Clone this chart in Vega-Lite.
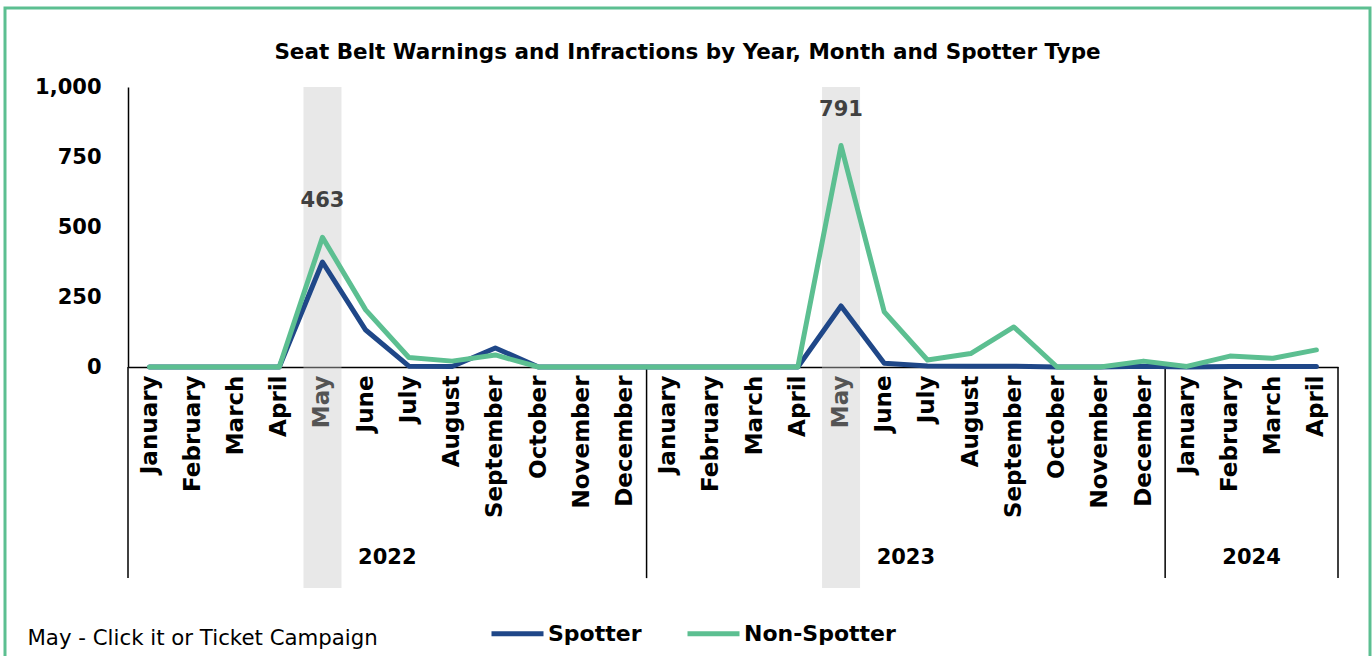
{
  "$schema": "https://vega.github.io/schema/vega-lite/v6.json",
  "width": 1365,
  "height": 660,
  "autosize": {"type": "none"},
  "padding": {"left": 5, "top": 8, "right": 2, "bottom": 0},
  "background": "white",
  "config": {
    "view": {"stroke": "#5cbf91", "strokeWidth": 3},
    "font": "DejaVu Sans"
  },
  "title": {
    "text": "Seat Belt Warnings and Infractions by Year, Month and Spotter Type",
    "anchor": "middle",
    "frame": "group",
    "offset": -66,
    "baseline": "middle",
    "font": "DejaVu Sans",
    "fontSize": 21.5,
    "fontWeight": "bold",
    "color": "black"
  },
  "data": {
    "values": [
      {"date": "2022-01-15", "series": "Spotter", "count": 0},
      {"date": "2022-02-15", "series": "Spotter", "count": 0},
      {"date": "2022-03-15", "series": "Spotter", "count": 0},
      {"date": "2022-04-15", "series": "Spotter", "count": 0},
      {"date": "2022-05-15", "series": "Spotter", "count": 375},
      {"date": "2022-06-15", "series": "Spotter", "count": 132},
      {"date": "2022-07-15", "series": "Spotter", "count": 3},
      {"date": "2022-08-15", "series": "Spotter", "count": 2},
      {"date": "2022-09-15", "series": "Spotter", "count": 68},
      {"date": "2022-10-15", "series": "Spotter", "count": 0},
      {"date": "2022-11-15", "series": "Spotter", "count": 0},
      {"date": "2022-12-15", "series": "Spotter", "count": 0},
      {"date": "2023-01-15", "series": "Spotter", "count": 0},
      {"date": "2023-02-15", "series": "Spotter", "count": 0},
      {"date": "2023-03-15", "series": "Spotter", "count": 0},
      {"date": "2023-04-15", "series": "Spotter", "count": 0},
      {"date": "2023-05-15", "series": "Spotter", "count": 218},
      {"date": "2023-06-15", "series": "Spotter", "count": 13},
      {"date": "2023-07-15", "series": "Spotter", "count": 4},
      {"date": "2023-08-15", "series": "Spotter", "count": 3},
      {"date": "2023-09-15", "series": "Spotter", "count": 3},
      {"date": "2023-10-15", "series": "Spotter", "count": 0},
      {"date": "2023-11-15", "series": "Spotter", "count": 0},
      {"date": "2023-12-15", "series": "Spotter", "count": 3},
      {"date": "2024-01-15", "series": "Spotter", "count": 0},
      {"date": "2024-02-15", "series": "Spotter", "count": 2},
      {"date": "2024-03-15", "series": "Spotter", "count": 2},
      {"date": "2024-04-15", "series": "Spotter", "count": 2},
      {"date": "2022-01-15", "series": "Non-Spotter", "count": 0},
      {"date": "2022-02-15", "series": "Non-Spotter", "count": 0},
      {"date": "2022-03-15", "series": "Non-Spotter", "count": 0},
      {"date": "2022-04-15", "series": "Non-Spotter", "count": 0},
      {"date": "2022-05-15", "series": "Non-Spotter", "count": 463},
      {"date": "2022-06-15", "series": "Non-Spotter", "count": 204},
      {"date": "2022-07-15", "series": "Non-Spotter", "count": 34},
      {"date": "2022-08-15", "series": "Non-Spotter", "count": 21},
      {"date": "2022-09-15", "series": "Non-Spotter", "count": 43},
      {"date": "2022-10-15", "series": "Non-Spotter", "count": 0},
      {"date": "2022-11-15", "series": "Non-Spotter", "count": 0},
      {"date": "2022-12-15", "series": "Non-Spotter", "count": 0},
      {"date": "2023-01-15", "series": "Non-Spotter", "count": 0},
      {"date": "2023-02-15", "series": "Non-Spotter", "count": 0},
      {"date": "2023-03-15", "series": "Non-Spotter", "count": 0},
      {"date": "2023-04-15", "series": "Non-Spotter", "count": 0},
      {"date": "2023-05-15", "series": "Non-Spotter", "count": 791},
      {"date": "2023-06-15", "series": "Non-Spotter", "count": 197},
      {"date": "2023-07-15", "series": "Non-Spotter", "count": 25},
      {"date": "2023-08-15", "series": "Non-Spotter", "count": 48},
      {"date": "2023-09-15", "series": "Non-Spotter", "count": 143},
      {"date": "2023-10-15", "series": "Non-Spotter", "count": 0},
      {"date": "2023-11-15", "series": "Non-Spotter", "count": 0},
      {"date": "2023-12-15", "series": "Non-Spotter", "count": 21},
      {"date": "2024-01-15", "series": "Non-Spotter", "count": 2},
      {"date": "2024-02-15", "series": "Non-Spotter", "count": 39},
      {"date": "2024-03-15", "series": "Non-Spotter", "count": 31},
      {"date": "2024-04-15", "series": "Non-Spotter", "count": 61}
    ],
    "format": {"parse": {"date": "date"}}
  },
  "encoding": {
    "x": {
      "field": "date", "timeUnit": "yearmonth", "type": "ordinal",
      "scale": {"type": "band", "range": [123, 1333], "paddingInner": 0, "paddingOuter": 0},
      "axis": {
        "format": "%B", "labelAngle": 270, "labelAlign": "right", "labelBaseline": "middle",
        "labelPadding": 8, "labelFont": "DejaVu Sans", "labelFontSize": 23, "labelFontWeight": "bold",
        "labelColor": "black", "labelOverlap": false, "labelBound": false, "labelFlush": false,
        "ticks": false, "grid": false, "domainColor": "black", "domainWidth": 1.5, "offset": -301,
        "title": "May - Click it or Ticket Campaign", "titleX": 22, "titleY": 271, "titleAlign": "left",
        "titleAnchor": "start", "titleAngle": 0, "titleBaseline": "middle", "titleFont": "DejaVu Sans",
        "titleFontSize": 21.3, "titleFontWeight": "normal", "titleColor": "black"
      }
    },
    "y": {
      "field": "count", "type": "quantitative",
      "scale": {"domain": [0, 1000], "range": [359, 79], "nice": false, "zero": false},
      "axis": {
        "values": [0, 250, 500, 750, 1000], "format": ",d", "title": null, "ticks": false, "grid": false,
        "labelFont": "DejaVu Sans", "labelFontSize": 21, "labelFontWeight": "bold", "labelColor": "black",
        "labelPadding": 27, "domainColor": "black", "domainWidth": 1.5, "offset": -123
      }
    }
  },
  "layer": [
    {
      "transform": [{"filter": "datum.series == 'Spotter' && month(datum.date) == 4"}],
      "mark": {"type": "bar", "color": "#c8c8c8", "opacity": 0.42, "width": {"band": 0.88}},
      "encoding": {
        "y": {"datum": 1000},
        "y2": {"datum": -789}
      }
    },
    {
      "transform": [{"filter": "datum.series == 'Spotter' && month(datum.date) == 0"}],
      "mark": {"type": "rule", "color": "black", "strokeWidth": 1.5},
      "encoding": {
        "x": {"field": "date", "timeUnit": "yearmonth", "type": "ordinal", "bandPosition": 0},
        "y": {"datum": 0},
        "y2": {"datum": -754}
      }
    },
    {
      "transform": [{"filter": "datum.series == 'Spotter' && year(datum.date) == 2024 && month(datum.date) == 3"}],
      "mark": {"type": "rule", "color": "black", "strokeWidth": 1.5},
      "encoding": {
        "x": {"field": "date", "timeUnit": "yearmonth", "type": "ordinal", "bandPosition": 1},
        "y": {"datum": 0},
        "y2": {"datum": -754}
      }
    },
    {
      "transform": [{"filter": "datum.series == 'Spotter' && ((year(datum.date) < 2024 && month(datum.date) == 5) || (year(datum.date) == 2024 && month(datum.date) == 1))"}],
      "mark": {"type": "text", "baseline": "middle", "align": "center", "font": "DejaVu Sans", "fontSize": 21, "fontWeight": "bold", "color": "black"},
      "encoding": {
        "x": {"field": "date", "timeUnit": "yearmonth", "type": "ordinal", "bandPosition": 1},
        "y": {"datum": -682},
        "text": {"field": "date", "timeUnit": "year", "type": "ordinal"}
      }
    },
    {
      "transform": [{"filter": "datum.series == 'Spotter'"}],
      "mark": {"type": "line", "strokeWidth": 5, "strokeJoin": "round", "strokeCap": "round"},
      "encoding": {
        "color": {
          "field": "series", "type": "nominal",
          "scale": {"domain": ["Spotter", "Non-Spotter"], "range": ["#1f4788", "#5cbf91"]},
          "legend": {
            "orient": "none", "legendX": 484, "legendY": 597, "direction": "horizontal", "title": null,
            "symbolType": "stroke", "symbolSize": 2704, "symbolStrokeWidth": 5,
            "labelFont": "DejaVu Sans", "labelFontSize": 22, "labelFontWeight": "bold", "labelColor": "black",
            "labelOffset": 2, "columnPadding": 35
          }
        }
      }
    },
    {
      "transform": [{"filter": "datum.series == 'Non-Spotter'"}],
      "mark": {"type": "line", "strokeWidth": 5, "strokeJoin": "round", "strokeCap": "round"},
      "encoding": {
        "color": {"field": "series", "type": "nominal"}
      }
    },
    {
      "transform": [{"filter": "datum.series == 'Non-Spotter' && month(datum.date) == 4"}],
      "mark": {"type": "text", "dy": -36, "baseline": "middle", "font": "DejaVu Sans", "fontSize": 21, "fontWeight": "bold", "color": "#404040"},
      "encoding": {
        "text": {"field": "count", "type": "quantitative"}
      }
    }
  ]
}
